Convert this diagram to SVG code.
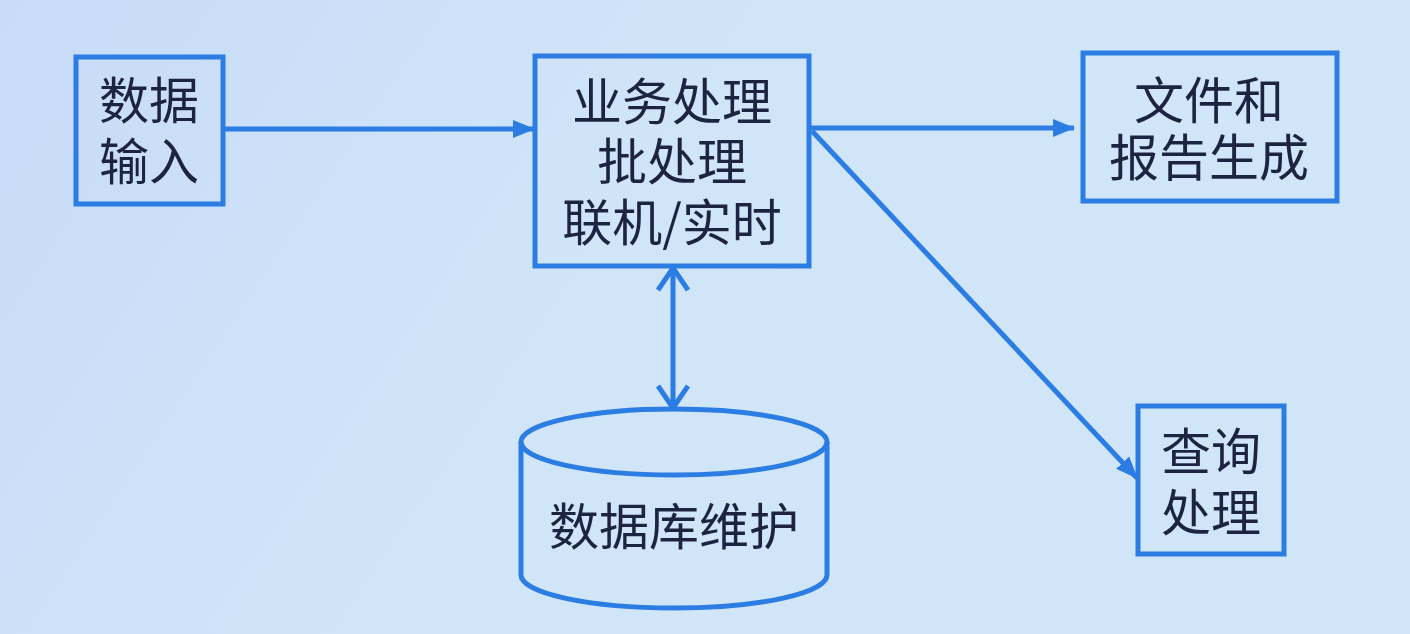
<svg xmlns="http://www.w3.org/2000/svg" width="1410" height="634" viewBox="0 0 1410 634">
<defs>
<linearGradient id="bg" x1="0" y1="0" x2="1" y2="0.3">
<stop offset="0" stop-color="#c8dbf9"/>
<stop offset="0.5" stop-color="#d1e5f8"/>
<stop offset="1" stop-color="#d0e6f8"/>
</linearGradient>
<marker id="tri" viewBox="0 0 22 18" refX="21" refY="9" markerWidth="22" markerHeight="18" markerUnits="userSpaceOnUse" orient="auto">
<path d="M0,0 L22,9 L0,18 Z" fill="#2b7de3"/>
</marker>
<marker id="chev" viewBox="0 0 26 34" refX="24" refY="17" markerWidth="26" markerHeight="34" markerUnits="userSpaceOnUse" orient="auto-start-reverse">
<path d="M2,2 L24,17 L2,32" fill="none" stroke="#2b7de3" stroke-width="5" stroke-linejoin="miter"/>
</marker>
</defs>
<style>
.box{fill:none;stroke:#2b7de3;stroke-width:5}
.cyl{fill:none;stroke:#2b7de3;stroke-width:5}
.lbl{font-family:"Noto Sans CJK SC","Noto Sans",sans-serif;font-size:50px;fill:#1d2442;text-anchor:middle;dominant-baseline:central}
.edge{fill:none;stroke:#2b7de3;stroke-width:5}
</style>
<rect x="0" y="0" width="1410" height="634" fill="url(#bg)"/>
<g id="connectors">
<line class="edge" x1="224" y1="129" x2="534" y2="129" marker-end="url(#tri)"/>
<line class="edge" x1="810" y1="128" x2="1074" y2="128" marker-end="url(#tri)"/>
<line class="edge" x1="812" y1="131" x2="1137" y2="478" marker-end="url(#tri)"/>
<line class="edge" x1="673" y1="268" x2="673" y2="408" marker-start="url(#chev)" marker-end="url(#chev)"/>
</g>
<g id="node-input">
<rect class="box" x="76" y="57" width="147" height="147"/>
<text class="lbl"><tspan x="149" y="97">数据</tspan><tspan x="149" y="158">输入</tspan></text>
</g>
<g id="node-process">
<rect class="box" x="535" y="56" width="274" height="210"/>
<text class="lbl"><tspan x="672" y="98">业务处理</tspan><tspan x="672" y="158">批处理</tspan><tspan x="672" y="219">联机/实时</tspan></text>
</g>
<g id="node-report">
<rect class="box" x="1083" y="53" width="254" height="148"/>
<text class="lbl"><tspan x="1209" y="97">文件和</tspan><tspan x="1209" y="154">报告生成</tspan></text>
</g>
<g id="node-query">
<rect class="box" x="1138" y="406" width="146" height="148"/>
<text class="lbl"><tspan x="1211" y="448">查询</tspan><tspan x="1211" y="509">处理</tspan></text>
</g>
<g id="node-db">
<path class="cyl" d="M521,442 L521,575 A153,33 0 0 0 827,575 L827,442"/>
<ellipse class="cyl" cx="674" cy="442" rx="153" ry="33"/>
<text class="lbl" x="674" y="523">数据库维护</text>
</g>
</svg>
